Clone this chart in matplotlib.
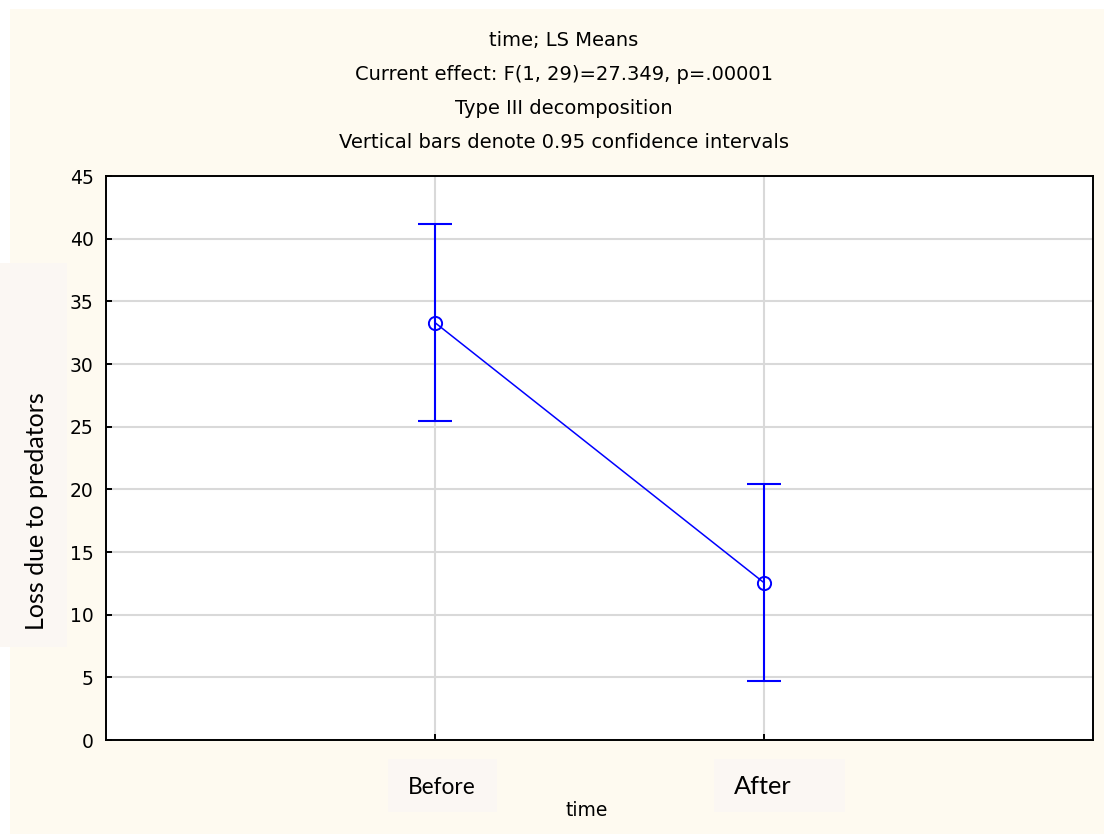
import numpy as np
import matplotlib.pyplot as plt
from matplotlib.patches import Rectangle
import matplotlib.transforms as mtransforms

# LS means of loss due to predators, with 0.95 confidence limits
groups = ['Before', 'After']
means = [33.3, 12.55]
ci_half = [7.88, 7.86]

title_lines = ['time; LS Means',
               'Current effect: F(1, 29)=27.349, p=.00001',
               'Type III decomposition',
               'Vertical bars denote 0.95 confidence intervals']
yticks = [0, 5, 10, 15, 20, 25, 30, 35, 40, 45]

W, H = 1104, 834
cream = '#fefaf0'
boxcol = '#fbf7f3'

fig = plt.figure(figsize=(W / 100, H / 100), dpi=100, facecolor='white')

def px(x0, y0, x1, y1):
    # pixel box (top-left origin) -> figure fraction rect
    return (x0 / W, 1 - y1 / H, (x1 - x0) / W, (y1 - y0) / H)

# cream panel behind everything
bx, by, bw, bh = px(10, 9, W, H)
fig.patches.append(Rectangle((bx, by), bw, bh, transform=fig.transFigure,
                             facecolor=cream, edgecolor='none', zorder=-1))

ax = fig.add_axes(px(106, 176, 1093, 740))
ax.set_facecolor('white')

x = np.arange(1, len(groups) + 1)
ax.plot(x, means, color='#0000ff', lw=1.1, zorder=3)
ax.errorbar(x, means, yerr=ci_half, fmt='none', ecolor='#0000ff',
            elinewidth=1.5, capsize=12, capthick=1.5, zorder=3)
ax.plot(x, means, 'o', mfc='none', mec='#0000ff', mew=1.4, ms=9.5, zorder=4)

ax.set_xlim(0, 3)
ax.set_ylim(0, 45)
ax.set_yticks(yticks)
ax.set_xticks(x)
ax.set_xticklabels([])
ax.grid(True, color='#d9d9d9', lw=1.5)
ax.set_axisbelow(True)
for s in ax.spines.values():
    s.set_linewidth(1.4)
ax.tick_params(axis='y', direction='in', length=4, width=1.4, pad=9,
               labelsize=13.5, labelcolor='black')
ax.tick_params(axis='x', direction='in', length=4, width=1.4)
for lab in ax.get_yticklabels():
    lab.set_family('DejaVu Sans')

# stacked title
for i, line in enumerate(title_lines):
    fig.text(564 / W, 1 - (41 + 33.7 * i) / H, line, ha='center', va='center',
             fontsize=14, family='DejaVu Sans')

fig.text(587 / W, 1 - 811 / H, 'time', ha='center', va='center',
         fontsize=13.5, family='DejaVu Sans')

# y label on its own light box
rx, ry, rw, rh = px(0, 263, 67, 647)
fig.patches.append(Rectangle((rx, ry), rw, rh, transform=fig.transFigure,
                             facecolor=boxcol, edgecolor='none', zorder=1))
fig.text(37 / W, 1 - 511 / H, 'Loss due to predators', rotation=90,
         ha='center', va='center', fontsize=18, family='Lato', zorder=2)

# group names on light boxes under the ticks
trans = mtransforms.blended_transform_factory(ax.transData, fig.transFigure)
boxes = [(388, 497), (714, 845)]
offsets = [7, -1]
sizes = [16.3, 18.3]
for xi, name, (b0, b1), off, fs in zip(x, groups, boxes, offsets, sizes):
    r = px(b0, 759, b1, 812)
    fig.patches.append(Rectangle((r[0], r[1]), r[2], r[3], transform=fig.transFigure,
                                 facecolor=boxcol, edgecolor='none', zorder=1))
    t = trans + mtransforms.ScaledTranslation(off / 100, 0, fig.dpi_scale_trans)
    fig.text(xi, 1 - 787 / H, name, transform=t, ha='center', va='center',
             fontsize=fs, family='Lato', zorder=2)

fig.savefig('out.png', dpi=100, facecolor='white')
